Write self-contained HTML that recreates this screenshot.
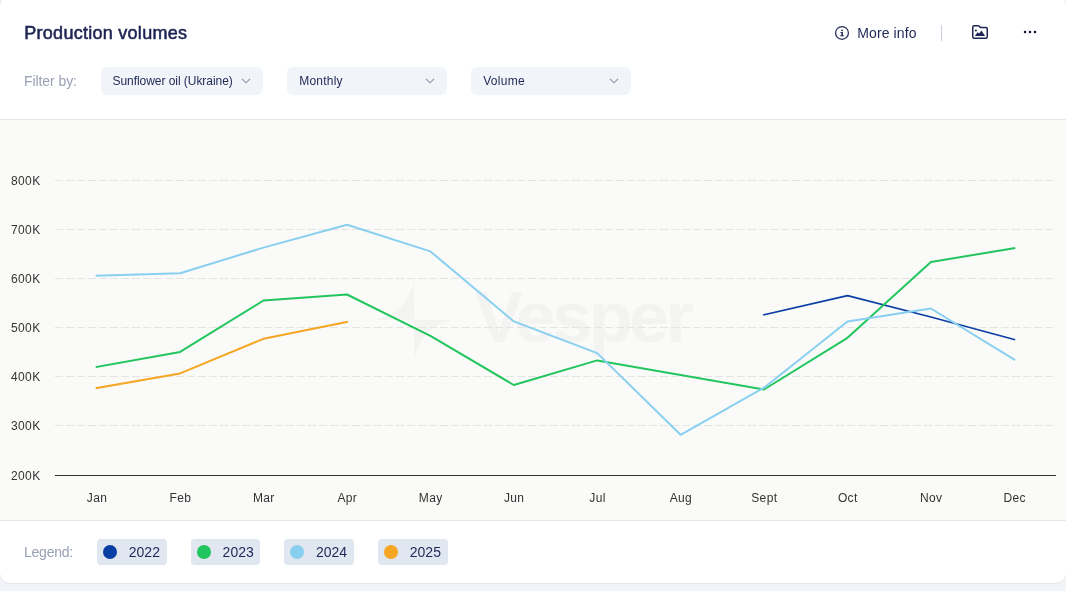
<!DOCTYPE html>
<html lang="en">
<head>
<meta charset="utf-8">
<title>Production volumes</title>
<style>
*{box-sizing:border-box;margin:0;padding:0}
html,body{width:1066px;height:591px;overflow:hidden;background:#f1f4f8}
body{position:relative;font-family:"Liberation Sans",sans-serif;color:#242c5c;-webkit-font-smoothing:antialiased}
.cardbg{position:absolute;left:-1px;top:-4.8px;width:1068px;height:588.8px;background:#fff;border:1px solid #e5e7eb;border-radius:11px}
.card{position:absolute;left:0;top:0;width:1066px;height:583px;overflow:hidden}
.abs{position:absolute;white-space:nowrap}
h1{position:absolute;left:24.3px;top:22px;font-size:18px;line-height:22px;font-weight:400;letter-spacing:0.27px;-webkit-text-stroke:0.55px #1d2452;color:#1d2452;white-space:nowrap}
.more{left:857.2px;top:25px;font-size:14px;line-height:16px;color:#1f2756;letter-spacing:0.13px}
.sep{position:absolute;left:941px;top:25px;width:1px;height:16px;background:#c9cddb}
.flabel{left:24px;top:73px;font-size:14px;line-height:16px;color:#9aa0b5;letter-spacing:-0.08px}
.dd{position:absolute;top:67px;height:28px;background:#f1f4f8;border-radius:6px;font-size:12px;line-height:28px;padding-left:12px;color:#1f2756;white-space:nowrap}
.dd svg{position:absolute;top:10.3px;right:12.2px}
.chart{position:absolute;left:0;top:119px;width:1068px;height:402px;background:#fafaf8;border-top:1px solid #e5e7eb;border-bottom:1px solid #e5e7eb}
svg.plot{position:absolute;left:0;top:0;width:1066px;height:591px;overflow:visible}
svg.plot text{font-family:"Liberation Sans",sans-serif;font-size:12px;fill:#333}
.llabel{left:24px;top:544px;font-size:14px;line-height:16px;color:#9aa0b5;letter-spacing:-0.24px}
.chip{position:absolute;top:539px;height:26px;width:69.6px;background:#e1e7f0;border-radius:4px;font-size:14px;line-height:26px;color:#1f2756;}
.chip i{position:absolute;left:6px;top:6px;width:14px;height:14px;border-radius:50%}
.chip span{position:absolute;left:31.8px;top:0}
.ico{position:absolute}
</style>
</head>
<body>
<div class="cardbg"></div>
<div class="card">
  <h1>Production volumes</h1>

  <svg class="ico" style="left:834px;top:25px" width="16" height="16" viewBox="0 0 32 32" fill="#242c5c">
    <circle cx="16" cy="15.8" r="12.8" fill="none" stroke="#242c5c" stroke-width="2.5"/>
    <circle cx="16.2" cy="10.6" r="1.8"/>
    <path d="M13 14H17.9V20.4H19.8V22.3H12.4V20.4H14.7V15.9H13Z"/>
  </svg>
  <div class="abs more">More info</div>
  <div class="sep"></div>
  <svg class="ico" style="left:972px;top:25px" width="16" height="14" viewBox="0 0 16 14">
    <path d="M0.75 2.2 Q0.75 0.75 2.2 0.75 H6 Q6.7 0.75 7.2 1.3 L8 2.1 Q8.5 2.6 9.2 2.6 H13.8 Q15.25 2.6 15.25 4.05 V11.8 Q15.25 13.25 13.8 13.25 H2.2 Q0.75 13.25 0.75 11.8 Z" fill="none" stroke="#1d2452" stroke-width="1.5" stroke-linejoin="round"/>
    <circle cx="3.9" cy="5.5" r="1" fill="#1d2452"/>
    <path d="M2.8 10.9 L5.7 7.2 L7.2 8.6 L9.4 5.4 L13.1 10.9 Z" fill="#1d2452"/>
  </svg>
  <svg class="ico" style="left:1020px;top:22px" width="20" height="20" viewBox="0 0 20 20" fill="#0c123f">
    <circle cx="5" cy="10" r="1.25"/><circle cx="10" cy="10" r="1.25"/><circle cx="15" cy="10" r="1.25"/>
  </svg>

  <div class="abs flabel">Filter by:</div>
  <div class="dd" style="left:101px;width:162px;padding-left:11.5px;letter-spacing:-0.05px">Sunflower oil (Ukraine)
    <svg width="10" height="8" viewBox="0 0 10 8"><path d="M1 1.8 L5 5.8 L9 1.8" fill="none" stroke="#8a8fa3" stroke-width="1.1"/></svg></div>
  <div class="dd" style="left:287px;width:160px;padding-left:12.2px;letter-spacing:0.22px">Monthly
    <svg width="10" height="8" viewBox="0 0 10 8"><path d="M1 1.8 L5 5.8 L9 1.8" fill="none" stroke="#8a8fa3" stroke-width="1.1"/></svg></div>
  <div class="dd" style="left:471px;width:160px;padding-left:12.2px;letter-spacing:0.3px">Volume
    <svg width="10" height="8" viewBox="0 0 10 8"><path d="M1 1.8 L5 5.8 L9 1.8" fill="none" stroke="#8a8fa3" stroke-width="1.1"/></svg></div>

  <div class="chart"></div>
  <svg class="plot" viewBox="0 0 1066 591">
    <g fill="#f3f3f1">
      <path d="M414.2 279.8 L414.2 319.8 L373.9 319.8 Q408 314 414.2 279.8 Z M414.2 319.8 L453.9 319.8 Q420.5 326 414.2 360.6 Z"/>
      <text id="wm" x="475" y="342.2" style="font-size:72px;font-weight:700;fill:#f3f3f1;letter-spacing:-3.5px">Vesper</text>
    </g>
    <g stroke="#e4e4e2" stroke-width="1" stroke-dasharray="8 3" shape-rendering="crispEdges">
<line x1="55" x2="1056" y1="180.5" y2="180.5"/>
<line x1="55" x2="1056" y1="229.5" y2="229.5"/>
<line x1="55" x2="1056" y1="278.5" y2="278.5"/>
<line x1="55" x2="1056" y1="327.5" y2="327.5"/>
<line x1="55" x2="1056" y1="376.5" y2="376.5"/>
<line x1="55" x2="1056" y1="425.5" y2="425.5"/>
    </g>
    <line x1="55" x2="1056" y1="475.5" y2="475.5" stroke="#333" stroke-width="1" shape-rendering="crispEdges"/>
    <g>
<text x="40.6" y="185.1" text-anchor="end" letter-spacing="0.4">800K</text>
<text x="40.6" y="234.1" text-anchor="end" letter-spacing="0.4">700K</text>
<text x="40.6" y="283.1" text-anchor="end" letter-spacing="0.4">600K</text>
<text x="40.6" y="332.1" text-anchor="end" letter-spacing="0.4">500K</text>
<text x="40.6" y="381.1" text-anchor="end" letter-spacing="0.4">400K</text>
<text x="40.6" y="430.1" text-anchor="end" letter-spacing="0.4">300K</text>
<text x="40.6" y="480.1" text-anchor="end" letter-spacing="0.4">200K</text>
<text x="97.0" y="502" text-anchor="middle" letter-spacing="0.35">Jan</text>
<text x="180.4" y="502" text-anchor="middle" letter-spacing="0.35">Feb</text>
<text x="263.8" y="502" text-anchor="middle" letter-spacing="0.35">Mar</text>
<text x="347.3" y="502" text-anchor="middle" letter-spacing="0.35">Apr</text>
<text x="430.7" y="502" text-anchor="middle" letter-spacing="0.35">May</text>
<text x="514.1" y="502" text-anchor="middle" letter-spacing="0.35">Jun</text>
<text x="597.5" y="502" text-anchor="middle" letter-spacing="0.35">Jul</text>
<text x="680.9" y="502" text-anchor="middle" letter-spacing="0.35">Aug</text>
<text x="764.3" y="502" text-anchor="middle" letter-spacing="0.35">Sept</text>
<text x="847.8" y="502" text-anchor="middle" letter-spacing="0.35">Oct</text>
<text x="931.2" y="502" text-anchor="middle" letter-spacing="0.35">Nov</text>
<text x="1014.6" y="502" text-anchor="middle" letter-spacing="0.35">Dec</text>
    </g>
    <g fill="none" stroke-width="2" stroke-linejoin="round" stroke-linecap="square">
      <polyline stroke="#0b3fa6" stroke-width="1.75" points="764.0,314.8 847.5,295.7 930.9,317.0 1014.3,339.5"/>
      <polyline stroke="#22c55e" points="96.7,366.9 180.1,351.9 263.5,300.5 347.0,294.5 430.4,335.8 513.8,385.0 597.2,360.4 764.0,389.5 847.5,337.8 930.9,262.1 1014.3,248.1"/>
      <polyline stroke="#89cff0" points="96.7,275.7 180.1,273.2 263.5,247.6 347.0,224.8 430.4,251.4 513.8,321.4 597.2,353.1 680.6,434.8 764.0,387.7 847.5,321.5 930.9,308.5 1014.3,359.6"/>
      <polyline stroke="#f5a623" points="96.7,388.0 180.1,373.4 263.5,338.8 347.0,322.0"/>
    </g>
  </svg>

  <div class="abs llabel">Legend:</div>
  <div class="chip" style="left:97px"><i style="background:#0b3fa6"></i><span>2022</span></div>
<div class="chip" style="left:190.8px"><i style="background:#22c55e"></i><span>2023</span></div>
<div class="chip" style="left:284.2px"><i style="background:#89cff0"></i><span>2024</span></div>
<div class="chip" style="left:378px"><i style="background:#f5a623"></i><span>2025</span></div>

</div>
</body>
</html>
